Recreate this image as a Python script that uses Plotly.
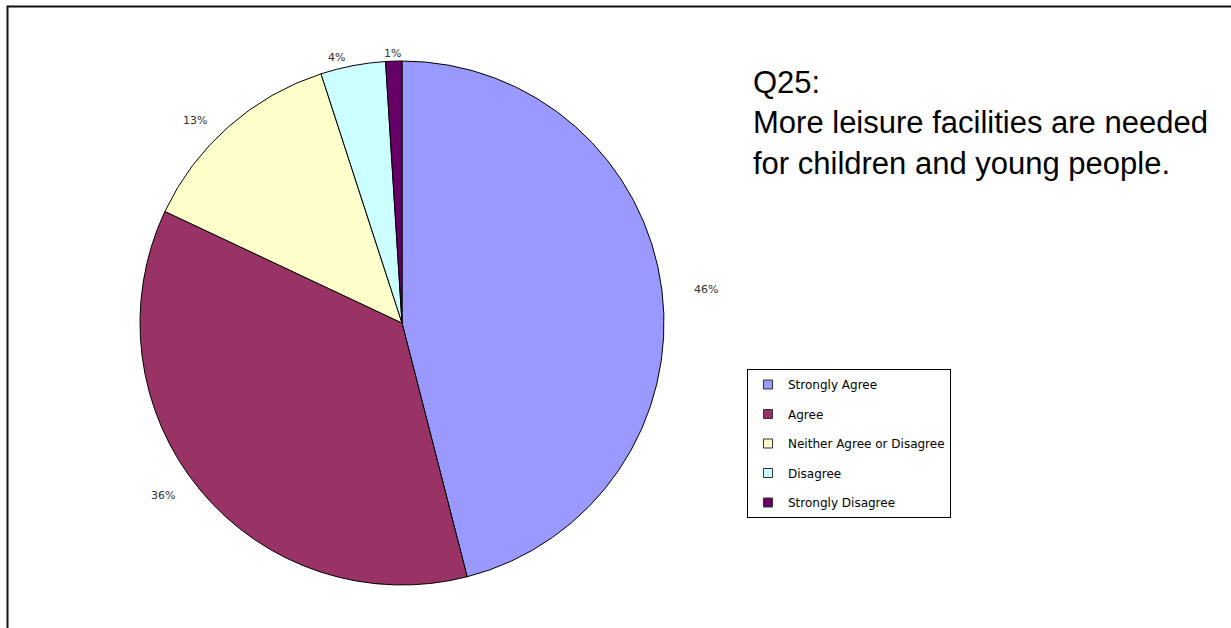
import math
import plotly.graph_objects as go

# Survey responses for Q25
categories = ["Strongly Agree", "Agree", "Neither Agree or Disagree", "Disagree", "Strongly Disagree"]
shares = [46, 36, 13, 4, 1]
colors = ["#9999FF", "#993366", "#FFFFCC", "#CCFFFF", "#660066"]

question = "Q25:<br>More leisure facilities are needed<br>for children and young people."

W, H = 1231, 628
cx, cy, r = 402, 323, 262

fig = go.Figure()

fig.add_trace(go.Pie(
    labels=categories,
    values=shares,
    sort=False,
    direction="clockwise",
    rotation=0,
    marker=dict(colors=colors, line=dict(color="#000000", width=1)),
    textinfo="none",
    showlegend=False,
    hoverinfo="label+percent",
    domain=dict(x=[(cx - r) / W, (cx + r) / W],
                y=[(H - cy - r) / H, (H - cy + r) / H]),
))

# Percentage labels placed just outside each slice, at its mid angle
total = sum(shares)
annotations = []
cum = 0.0
for v in shares:
    mid = (cum + v / 2) / total * 2 * math.pi
    cum += v
    dx, dy = math.sin(mid), math.cos(mid)
    px = cx + (r + 30) * dx
    py = cy - (r + 8) * dy
    anchor = "right" if dx < -0.1 else ("left" if dx > 0.1 else "center")
    annotations.append(dict(
        text=f"{round(v / total * 100)}%", xref="paper", yref="paper",
        x=px / W, y=(H - py) / H, xanchor=anchor, yanchor="middle",
        showarrow=False,
        font=dict(family="DejaVu Sans", size=11, color="#333333"),
    ))

# Legend entries, one group each so they can be spaced apart
for i, (name, col) in enumerate(zip(categories, colors)):
    fig.add_trace(go.Scatter(
        x=[None], y=[None], mode="markers", name=name,
        legendgroup=f"g{i}",
        marker=dict(symbol="square", size=9, color=col,
                    line=dict(color="#333333", width=1)),
        showlegend=True, hoverinfo="skip",
    ))

annotations.append(dict(
    text=question, xref="paper", yref="paper",
    x=751 / W, y=(H - 63) / H, xanchor="left", yanchor="top",
    align="left", showarrow=False,
    font=dict(family="Liberation Sans", size=31, color="#000000"),
))

fig.update_layout(
    width=W, height=H,
    margin=dict(l=0, r=0, t=0, b=0),
    paper_bgcolor="#FFFFFF",
    plot_bgcolor="#FFFFFF",
    xaxis=dict(visible=False),
    yaxis=dict(visible=False),
    showlegend=True,
    legend=dict(
        x=747 / W, y=(H - 369) / H, xanchor="left", yanchor="top",
        bordercolor="#000000", borderwidth=1, bgcolor="#FFFFFF",
        font=dict(family="DejaVu Sans", size=12, color="#000000"),
        tracegroupgap=10.5, itemclick=False, itemdoubleclick=False,
    ),
    annotations=annotations,
    shapes=[dict(
        type="rect", xref="paper", yref="paper",
        x0=7.5 / W, y0=-0.05, x1=1.05, y1=(H - 6.5) / H,
        line=dict(color="#111111", width=2), fillcolor="rgba(0,0,0,0)",
    )],
)

fig.write_html("out.html")
